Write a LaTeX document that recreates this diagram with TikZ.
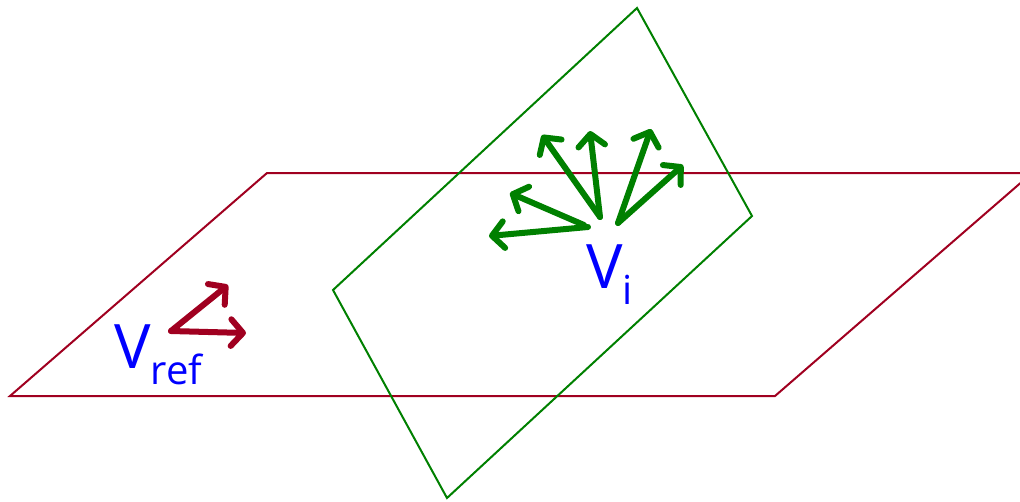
\documentclass[tikz,border=0pt]{standalone}
\usepackage{fontspec}
\setmainfont{Open Sans}
\usetikzlibrary{arrows.meta}
\definecolor{planered}{RGB}{160,0,32}
\definecolor{planegreen}{RGB}{0,128,0}
\definecolor{labelblue}{RGB}{0,0,255}
\begin{document}
\begin{tikzpicture}[x=0.75pt,y=-0.75pt,
  planeedge/.style={line width=1.5pt, line join=miter},
  vecarrow/.style={line width=4.5pt, line cap=round,
    -{Straight Barb[length=9pt,width=20pt,line cap=round,line join=round]}},
  vlabel/.style={text=labelblue, inner sep=0pt, anchor=base west, font=\fontsize{46}{46}\selectfont}]
\useasboundingbox (0,0) rectangle (1020,501);
% red plane
\coordinate (r1) at (10,396);
\coordinate (r2) at (267,173);
\coordinate (r3) at (1032,173);
\coordinate (r4) at (775,396);
\draw[planeedge, planered] (r1) -- (r2) -- (r3) -- (r4) -- cycle;
% green plane
\coordinate (g1) at (637,8);
\coordinate (g2) at (752,216);
\coordinate (g3) at (447,498);
\coordinate (g4) at (333,290);
\draw[planeedge, planegreen] (g1) -- (g2) -- (g3) -- (g4) -- cycle;
% green vectors
\coordinate (oa) at (588,227);
\coordinate (ob) at (584,225);
\coordinate (oc) at (600,217);
\coordinate (od) at (618,223);
\coordinate (ta) at (489,236);
\coordinate (tb) at (510,193);
\coordinate (tc) at (542,135);
\coordinate (td) at (590,131);
\coordinate (te) at (651,129);
\coordinate (tf) at (683,165);
\draw[vecarrow, planegreen] (oa) -- (ta);
\draw[vecarrow, planegreen] (ob) -- (tb);
\draw[vecarrow, planegreen] (oc) -- (tc);
\draw[vecarrow, planegreen] (oc) -- (td);
\draw[vecarrow, planegreen] (od) -- (te);
\draw[vecarrow, planegreen] (od) -- (tf);
% red vectors
\coordinate (ro) at (171,331);
\coordinate (rt1) at (228,285);
\coordinate (rt2) at (246,333);
\draw[vecarrow, planered] (ro) -- (rt1);
\draw[vecarrow, planered] (ro) -- (rt2);
% labels
\node[vlabel] (vi) at (586,288) {V\raisebox{-12pt}{\fontsize{30}{30}\selectfont i}};
\node[vlabel] (vref) at (114,368) {V\raisebox{-12pt}{\fontsize{30}{30}\selectfont ref}};
\end{tikzpicture}
\end{document}
